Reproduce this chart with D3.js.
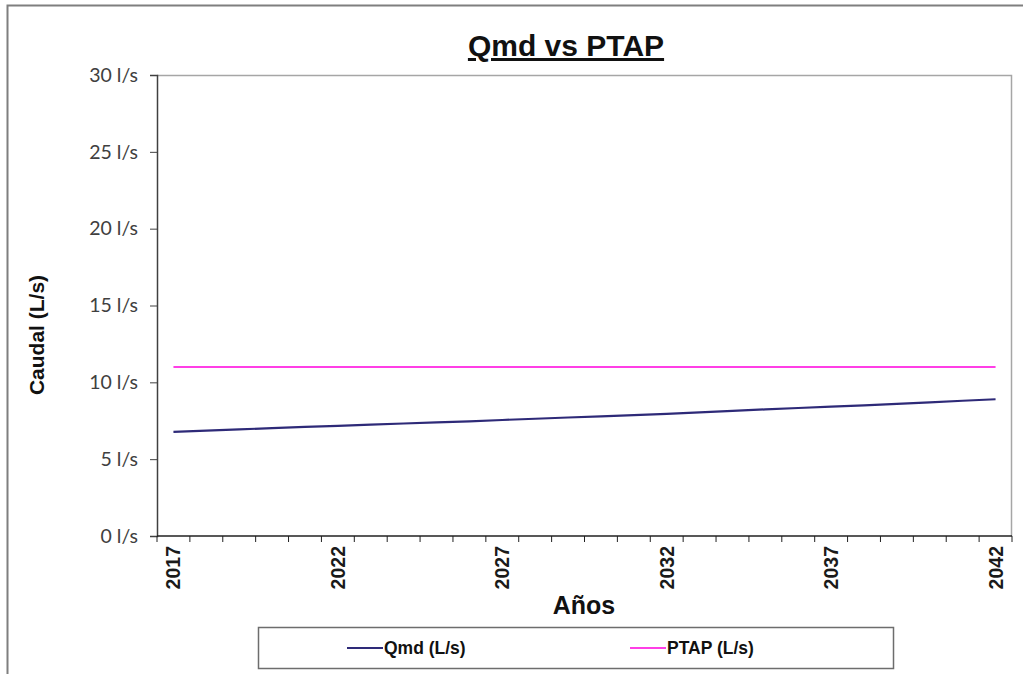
<!DOCTYPE html>
<html>
<head>
<meta charset="utf-8">
<script src="https://cdn.jsdelivr.net/npm/d3@7"></script>
<style>
body { margin: 0; background: #fff; }
svg { display: block; }
</style>
</head>
<body>
<div id="chart"></div>
<script>
var years = d3.range(2017, 2043);
var qmdValues = [6.78, 6.86, 6.94, 7.02, 7.10, 7.17, 7.25, 7.32, 7.39, 7.46,
                 7.55, 7.63, 7.71, 7.79, 7.86, 7.95, 8.04, 8.14, 8.24, 8.33,
                 8.42, 8.50, 8.60, 8.70, 8.80, 8.90];
var ptapValues = [11, 11, 11, 11, 11, 11, 11, 11, 11, 11,
                  11, 11, 11, 11, 11, 11, 11, 11, 11, 11,
                  11, 11, 11, 11, 11, 11];
var yTicks = [0, 5, 10, 15, 20, 25, 30];
var labelYears = [2017, 2022, 2027, 2032, 2037, 2042];
var seriesNames = ["Qmd (L/s)", "PTAP (L/s)"];

var W = 1023, H = 674,
	margin = {top: 75, right: 11, bottom: 138, left: 157},
	width = W - margin.left - margin.right,
	height = H - margin.top - margin.bottom;

var colors = {qmd: "#2e2a78", ptap: "#ff3fe6"};

var svg = d3.select("#chart").append("svg")
	.attr("width", W)
	.attr("height", H);

// outer chart frame (only left & top edges are in view)
svg.append("rect")
	.attr("x", 7.5).attr("y", 5.5)
	.attr("width", W + 20).attr("height", H + 20)
	.attr("fill", "#fff")
	.attr("stroke", "#7f7f7f")
	.attr("stroke-width", 2);

var xBand = d3.scaleBand().domain(years).range([0, width]).padding(0);
var x = function(d) { return xBand(d) + xBand.bandwidth() / 2; };
var y = d3.scaleLinear().domain([0, 30]).range([height, 0]);

var g = svg.append("g")
	.attr("transform", "translate(" + margin.left + "," + margin.top + ")");

// plot area border (top/right gray)
g.append("path")
	.attr("d", "M0,0.5H" + (width - 0.5) + "V" + height)
	.attr("fill", "none")
	.attr("stroke", "#a6a6a6")
	.attr("stroke-width", 1.5);

// series
var line = d3.line()
	.x(function(d) { return x(d.year); })
	.y(function(d) { return y(d.value); });

var qmdData = years.map(function(yr, i) { return {year: yr, value: qmdValues[i]}; });
var ptapData = years.map(function(yr, i) { return {year: yr, value: ptapValues[i]}; });

g.append("path")
	.datum(ptapData)
	.attr("fill", "none")
	.attr("stroke", colors.ptap)
	.attr("stroke-width", 2)
	.attr("d", line);

g.append("path")
	.datum(qmdData)
	.attr("fill", "none")
	.attr("stroke", colors.qmd)
	.attr("stroke-width", 2.2)
	.attr("d", line);

// y axis
var yAxis = d3.axisLeft(y)
	.tickValues(yTicks)
	.tickSize(7)
	.tickPadding(12)
	.tickFormat(function(d) { return d + " l/s"; });

var yAxisG = g.append("g").call(yAxis);
yAxisG.select(".domain").attr("stroke", "#404040").attr("stroke-width", 1.5);
yAxisG.selectAll(".tick line").attr("stroke", "#404040");
yAxisG.selectAll("text")
	.attr("font-family", "Lato, 'Open Sans', sans-serif")
	.attr("font-size", 19.5)
	.attr("fill", "#404040");

// x axis: ticks at category boundaries
var boundaries = years.map(function(d) { return xBand(d); }).concat([width]);
var xAxisG = g.append("g").attr("transform", "translate(0," + height + ")");
xAxisG.append("line")
	.attr("x1", 0).attr("x2", width)
	.attr("stroke", "#202020").attr("stroke-width", 1.5);
xAxisG.selectAll(".xtick").data(boundaries).enter().append("line")
	.attr("class", "xtick")
	.attr("x1", function(d) { return d; })
	.attr("x2", function(d) { return d; })
	.attr("y1", 0).attr("y2", 6)
	.attr("stroke", "#202020");
xAxisG.selectAll(".xlabel").data(labelYears).enter().append("text")
	.attr("class", "xlabel")
	.attr("transform", function(d) { return "translate(" + (x(d) + 7) + ",10) rotate(-90)"; })
	.attr("text-anchor", "end")
	.attr("font-family", "Liberation Sans, Arial, sans-serif")
	.attr("font-weight", "bold")
	.attr("font-size", 19.5)
	.attr("fill", "#1a1a1a")
	.text(function(d) { return d; });

// title
svg.append("text")
	.attr("x", 566).attr("y", 56)
	.attr("text-anchor", "middle")
	.attr("font-family", "Liberation Sans, Arial, sans-serif")
	.attr("font-weight", "bold")
	.attr("font-size", 30)
	.attr("fill", "#111")
	.attr("text-decoration", "underline")
	.text("Qmd vs PTAP");

// axis titles
svg.append("text")
	.attr("transform", "translate(44,335) rotate(-90)")
	.attr("text-anchor", "middle")
	.attr("font-family", "Liberation Sans, Arial, sans-serif")
	.attr("font-weight", "bold")
	.attr("font-size", 21)
	.attr("fill", "#111")
	.text("Caudal (L/s)");

svg.append("text")
	.attr("x", 584).attr("y", 614)
	.attr("text-anchor", "middle")
	.attr("font-family", "Liberation Sans, Arial, sans-serif")
	.attr("font-weight", "bold")
	.attr("font-size", 25)
	.attr("fill", "#111")
	.text("Años");

// legend
var legend = svg.append("g").attr("transform", "translate(258,627)");
legend.append("rect")
	.attr("x", 0.5).attr("y", 0.5)
	.attr("width", 635).attr("height", 41)
	.attr("fill", "#fff")
	.attr("stroke", "#6d6d6d")
	.attr("stroke-width", 1.5);

var legendItems = [
	{name: seriesNames[0], color: colors.qmd, x: 89},
	{name: seriesNames[1], color: colors.ptap, x: 372}
];
var li = legend.selectAll(".li").data(legendItems).enter().append("g")
	.attr("transform", function(d) { return "translate(" + d.x + ",21)"; });
li.append("line")
	.attr("x1", 0).attr("x2", 36)
	.attr("stroke", function(d) { return d.color; })
	.attr("stroke-width", 2);
li.append("text")
	.attr("x", 37).attr("dy", "0.35em")
	.attr("font-family", "Liberation Sans, Arial, sans-serif")
	.attr("font-weight", "bold")
	.attr("font-size", 17.5)
	.attr("fill", "#111")
	.text(function(d) { return d.name; });
</script>
</body>
</html>
